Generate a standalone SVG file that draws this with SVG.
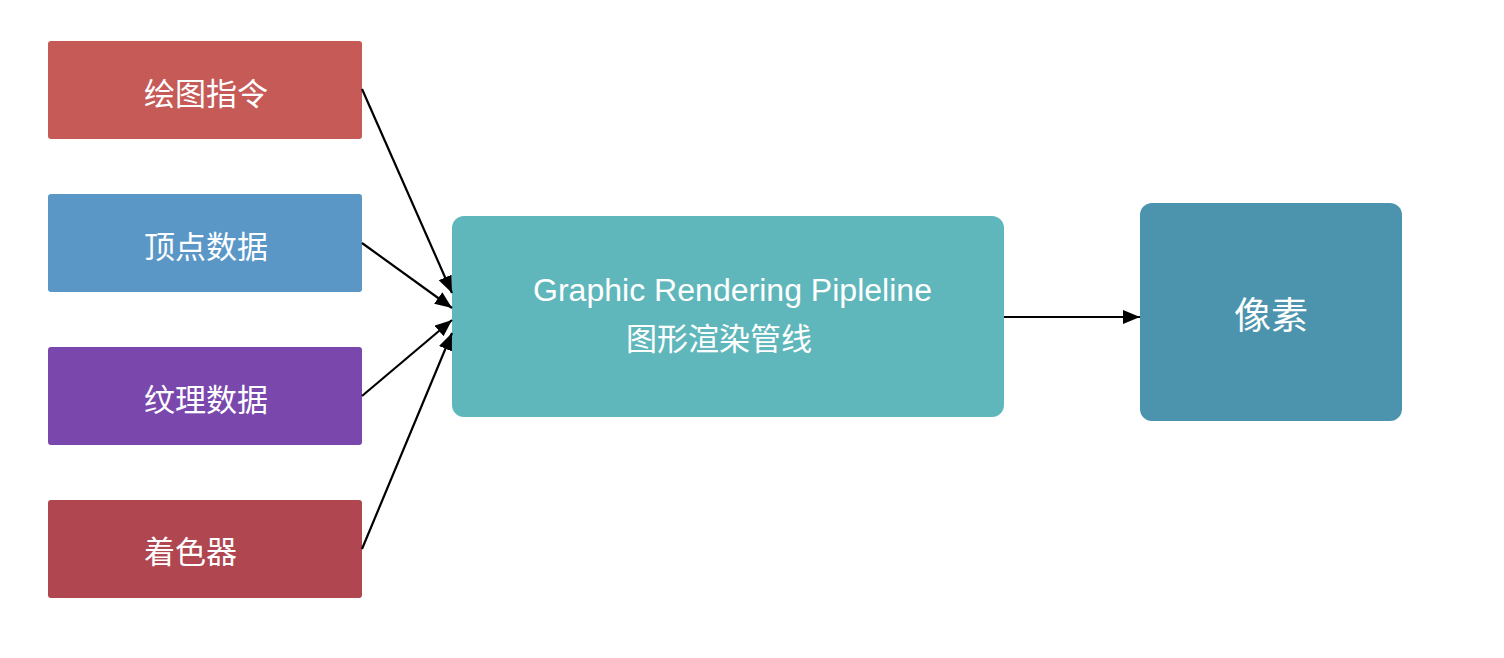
<svg xmlns="http://www.w3.org/2000/svg" width="1504" height="658" viewBox="0 0 1504 658">
<style>
.lbl{fill:#ffffff;font-family:"Noto Sans CJK SC","Liberation Sans",sans-serif;font-size:31px;dominant-baseline:central}
.en{fill:#ffffff;font-family:"Liberation Sans","Noto Sans CJK SC",sans-serif;font-size:31px}
.edge{stroke:#000;stroke-width:2.2;fill:none;marker-end:url(#ah)}
</style>
<defs>
<marker id="ah" markerUnits="userSpaceOnUse" markerWidth="18" markerHeight="16" refX="17" refY="7" orient="auto">
<path d="M0,0 L17,7 L0,14 z" fill="#000"/>
</marker>
</defs>
<rect width="1504" height="658" fill="#fff"/>
<g id="n1"><rect x="48" y="41" width="314" height="98" rx="3" fill="#C55A57"/><text class="lbl" x="144" y="91">绘图指令</text></g>
<g id="n2"><rect x="48" y="194" width="314" height="98" rx="3" fill="#5A97C7"/><text class="lbl" x="144" y="244">顶点数据</text></g>
<g id="n3"><rect x="48" y="347" width="314" height="98" rx="3" fill="#7A48AD"/><text class="lbl" x="144" y="397">纹理数据</text></g>
<g id="n4"><rect x="48" y="500" width="314" height="98" rx="3" fill="#B04650"/><text class="lbl" x="144" y="549">着色器</text></g>
<g id="pipeline"><rect x="452" y="216" width="552" height="201" rx="12" fill="#5FB7BC"/>
<text class="en" x="533" y="301" textLength="399" lengthAdjust="spacingAndGlyphs">Graphic Rendering Pipleline</text>
<text class="lbl" x="626" y="336">图形渲染管线</text></g>
<g id="pixel"><rect x="1140" y="203" width="262" height="218" rx="12" fill="#4C94AE"/><text class="lbl" x="1271" y="313" text-anchor="middle" style="font-size:37px">像素</text></g>
<g id="edges">
<line class="edge" x1="362" y1="89" x2="452" y2="293"/>
<line class="edge" x1="362" y1="243" x2="452" y2="308"/>
<line class="edge" x1="362" y1="396" x2="452" y2="320"/>
<line class="edge" x1="362" y1="549" x2="452" y2="333"/>
<line class="edge" x1="1004" y1="317" x2="1140" y2="317"/>
</g>
</svg>
